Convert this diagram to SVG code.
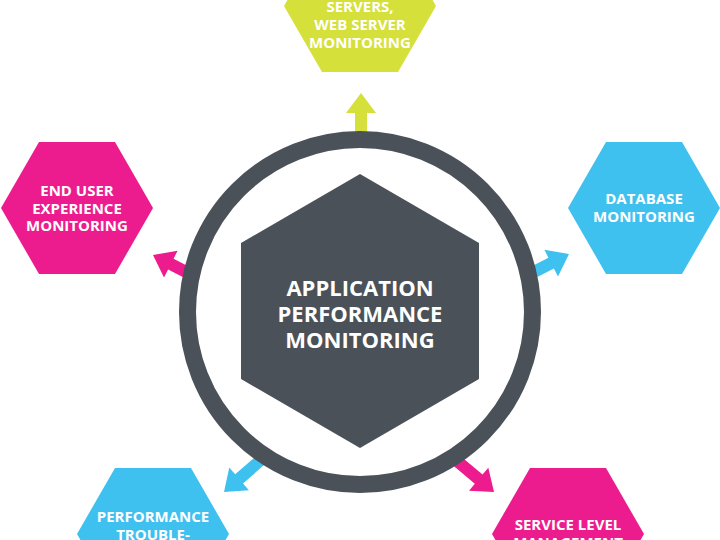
<svg xmlns="http://www.w3.org/2000/svg" width="720" height="540" viewBox="0 0 720 540">
<style>
.t{font-family:"Open Sans","Liberation Sans",sans-serif;font-weight:700;fill:#ffffff;text-anchor:middle}
.s{font-size:15px}
.c{font-size:22px}
.pink{fill:#ec1c8e}
.blue{fill:#3fc1f0}
.lime{fill:#d6e03a}
.dark{fill:#4a5158}
</style>
<defs>
<polygon id="hex" points="-76,0 -38,-66 38,-66 76,0 38,66 -38,66"/>
<polygon id="arr" points="0,0 -20,-15 -20,-6 -70,-6 -70,6 -20,6 -20,15"/>
</defs>
<rect width="720" height="540" fill="#ffffff"/>
<g id="connectors">
<use href="#arr" class="lime" transform="translate(361,93) rotate(-90)"/>
<use href="#arr" class="pink" transform="translate(153,255) rotate(207)"/>
<use href="#arr" class="blue" transform="translate(569,254) rotate(-27)"/>
<use href="#arr" class="blue" transform="translate(224,492) rotate(139)"/>
<use href="#arr" class="pink" transform="translate(494,492) rotate(40)"/>
</g>
<g id="center">
<circle cx="360" cy="312" r="172.5" fill="#ffffff" stroke="#4a5158" stroke-width="17"/>
<polygon class="dark" points="360,174 479,243 479,379 360,448 241,379 241,243"/>
<text class="t c" x="360" y="296">APPLICATION</text>
<text class="t c" x="360" y="322">PERFORMANCE</text>
<text class="t c" x="360" y="348">MONITORING</text>
</g>
<g id="servers">
<use href="#hex" class="lime" transform="translate(360,6)"/>
<text class="t s" x="360" y="12">SERVERS,</text>
<text class="t s" x="360" y="30">WEB SERVER</text>
<text class="t s" x="360" y="48">MONITORING</text>
</g>
<g id="enduser">
<use href="#hex" class="pink" transform="translate(77,208)"/>
<text class="t s" x="77" y="196">END USER</text>
<text class="t s" x="77" y="213.5">EXPERIENCE</text>
<text class="t s" x="77" y="231">MONITORING</text>
</g>
<g id="database">
<use href="#hex" class="blue" transform="translate(644,208)"/>
<text class="t s" x="644" y="204.3">DATABASE</text>
<text class="t s" x="644" y="222.3">MONITORING</text>
</g>
<g id="troubleshooting">
<use href="#hex" class="blue" transform="translate(153,534)"/>
<text class="t s" x="153" y="521.7">PERFORMANCE</text>
<text class="t s" x="153" y="539.5">TROUBLE-</text>
</g>
<g id="servicelevel">
<use href="#hex" class="pink" transform="translate(568,534)"/>
<text class="t s" x="568" y="530">SERVICE LEVEL</text>
<text class="t s" x="568" y="548">MANAGEMENT</text>
</g>
</svg>
